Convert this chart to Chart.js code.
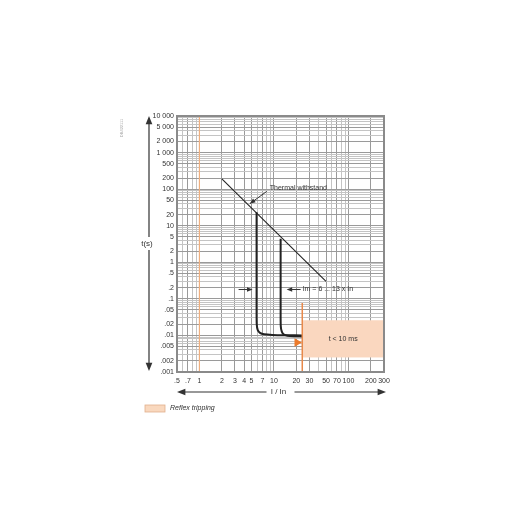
<!DOCTYPE html>
<html>
<head>
<meta charset="utf-8">
<script src="https://cdn.jsdelivr.net/npm/chart.js@4"></script>
<style>
  html, body { margin: 0; padding: 0; background: #fff; }
  #wrap { width: 524px; height: 524px; }
</style>
</head>
<body>
<div id="wrap"><canvas id="c" width="524" height="524"></canvas></div>
<script>
// tick labels
const xTickValues = [0.5, 0.7, 1, 2, 3, 4, 5, 7, 10, 20, 30, 50, 70, 100, 200, 300];
const xTickLabels = ['.5', '.7', '1', '2', '3', '4', '5', '7', '10', '20', '30', '50', '70', '100', '200', '300'];
const yTickValues = [10000, 5000, 2000, 1000, 500, 200, 100, 50, 20, 10, 5, 2, 1, 0.5, 0.2, 0.1, 0.05, 0.02, 0.01, 0.005, 0.002, 0.001];
const yTickLabels = ['10 000', '5 000', '2 000', '1 000', '500', '200', '100', '50', '20', '10', '5', '2', '1', '.5', '.2', '.1', '.05', '.02', '.01', '.005', '.002', '.001'];

// thermal withstand line (I/In, t in s)
const thermalX = [2, 50];
const thermalT = [190, 0.3];

// tripping curve, Im = 6 x In
const curve6X = [5.85, 5.85, 5.88, 6.05, 6.5, 7.4, 9.5, 15, 24];
const curve6T = [23.5, 0.05, 0.02, 0.0142, 0.0117, 0.0107, 0.0103, 0.0101, 0.0100];

// tripping curve, Im = 13 x In
const curve13X = [12.3, 12.3, 12.35, 12.75, 13.6, 15.2, 18.5, 24];
const curve13T = [4.4, 0.05, 0.018, 0.0127, 0.0106, 0.0098, 0.0095, 0.0094];

// reflex tripping zone and its limit line
const reflexX = [24, 300];
const reflexT = [0.0025, 0.026];
const limitX = [24, 24];
const limitT = [0.077, 0.001];
const markerX = [20.4];
const markerT = [0.0064];

// all grid lines: 1..9 in each decade
function decadeLines(min, max) {
  const out = [];
  for (let e = -4; e <= 5; e++) {
    for (let m = 1; m <= 9; m++) {
      const v = +(m * Math.pow(10, e)).toPrecision(3);
      if (v >= min * 0.999 && v <= max * 1.001) out.push(v);
    }
  }
  return out;
}

const toPts = (xs, ys) => xs.map((x, i) => ({ x: x, y: ys[i] }));
const FONT = "'Liberation Sans', Arial, sans-serif";

function labelFor(values, labels, v) {
  const i = values.findIndex(t => Math.abs(t - v) / t < 1e-6);
  return i >= 0 ? labels[i] : '';
}

function gridColor(values, v, special) {
  if (special && Math.abs(v - 1) < 1e-6) return '#eeae7e';
  return values.some(t => Math.abs(t - v) / t < 1e-6) ? '#9a9a9a' : '#c4c4c4';
}

function arrowHead(ctx, x, y, ang, size) {
  ctx.beginPath();
  ctx.moveTo(x, y);
  ctx.lineTo(x - size * Math.cos(ang - 0.38), y - size * Math.sin(ang - 0.38));
  ctx.lineTo(x - size * Math.cos(ang + 0.38), y - size * Math.sin(ang + 0.38));
  ctx.closePath();
  ctx.fill();
}

// background zone, frame, axis arrows, notes and legend
const decorations = {
  id: 'decorations',
  beforeDatasetsDraw(chart) {
    const { ctx, scales: { x, y } } = chart;
    const x0 = x.getPixelForValue(reflexX[0]), x1 = x.getPixelForValue(reflexX[1]);
    const y0 = y.getPixelForValue(reflexT[1]), y1 = y.getPixelForValue(reflexT[0]);
    ctx.save();
    // x = 1 line in orange
    const one = x.getPixelForValue(1);
    ctx.strokeStyle = '#eeae7e';
    ctx.lineWidth = 1.2;
    ctx.beginPath();
    ctx.moveTo(one, chart.chartArea.top);
    ctx.lineTo(one, chart.chartArea.bottom);
    ctx.stroke();

    ctx.fillStyle = '#fad7bf';
    ctx.fillRect(x0, y0, x1 - x0, y1 - y0);
    ctx.fillStyle = '#333';
    ctx.font = '7px ' + FONT;
    ctx.textAlign = 'center';
    ctx.textBaseline = 'middle';
    ctx.fillText('t < 10 ms', (x0 + x1) / 2, (y0 + y1) / 2);
    ctx.restore();
  },
  afterDatasetsDraw(chart) {
    const { ctx, chartArea: a, scales: { x, y } } = chart;
    ctx.save();
    // frame
    ctx.strokeStyle = '#8a8a8a';
    ctx.lineWidth = 2;
    ctx.strokeRect(a.left, a.top, a.right - a.left, a.bottom - a.top);

    ctx.fillStyle = '#333';
    ctx.strokeStyle = '#333';
    ctx.font = '7px ' + FONT;
    ctx.textBaseline = 'middle';

    // thermal withstand note
    ctx.textAlign = 'left';
    const tx = x.getPixelForValue(8.8), ty = y.getPixelForValue(105);
    ctx.fillText('Thermal withstand', tx, ty);
    const ax = x.getPixelForValue(4.75), ay = y.getPixelForValue(40);
    ctx.lineWidth = 1;
    ctx.beginPath();
    ctx.moveTo(tx - 3, ty + 3);
    ctx.lineTo(ax, ay);
    ctx.stroke();
    arrowHead(ctx, ax, ay, Math.atan2(ay - ty - 3, ax - tx + 3), 6);

    // Im range note
    const ny = y.getPixelForValue(0.18);
    const c6 = x.getPixelForValue(curve6X[0]), c13 = x.getPixelForValue(curve13X[0]);
    ctx.beginPath();
    ctx.moveTo(c6 - 18, ny); ctx.lineTo(c6 - 6, ny);
    ctx.moveTo(c13 + 20, ny); ctx.lineTo(c13 + 8, ny);
    ctx.stroke();
    arrowHead(ctx, c6 - 4, ny, 0, 6);
    arrowHead(ctx, c13 + 6, ny, Math.PI, 6);
    ctx.fillText('Im = 6 ... 13 x In', c13 + 22, ny);

    // t(s) axis arrow
    const vx = a.left - 28;
    ctx.lineWidth = 1.2;
    ctx.beginPath();
    ctx.moveTo(vx, a.top + 4); ctx.lineTo(vx, 237);
    ctx.moveTo(vx, 250); ctx.lineTo(vx, a.bottom - 4);
    ctx.stroke();
    arrowHead(ctx, vx, a.top, -Math.PI / 2, 9);
    arrowHead(ctx, vx, a.bottom - 1, Math.PI / 2, 9);
    ctx.textAlign = 'center';
    ctx.font = '8px ' + FONT;
    ctx.fillText('t(s)', vx - 2, 243.5);

    // I / In axis arrow
    const hy = a.bottom + 20;
    const mid = (a.left + a.right) / 2;
    ctx.beginPath();
    ctx.moveTo(a.left + 4, hy); ctx.lineTo(mid - 14, hy);
    ctx.moveTo(mid + 14, hy); ctx.lineTo(a.right - 2, hy);
    ctx.stroke();
    arrowHead(ctx, a.left, hy, Math.PI, 9);
    arrowHead(ctx, a.right + 2, hy, 0, 9);
    ctx.fillText('I / In', mid - 2, hy);

    // small document reference
    ctx.save();
    ctx.translate(a.left - 55, a.top + 12);
    ctx.rotate(-Math.PI / 2);
    ctx.fillStyle = '#aaa';
    ctx.font = '4px ' + FONT;
    ctx.fillText('DB422111', 0, 0);
    ctx.restore();

    // legend
    ctx.fillStyle = '#f9d8be';
    ctx.fillRect(145, 405, 20, 7);
    ctx.strokeStyle = '#e0b08c';
    ctx.lineWidth = 0.8;
    ctx.strokeRect(145, 405, 20, 7);
    ctx.fillStyle = '#333';
    ctx.textAlign = 'left';
    ctx.font = 'italic 7px ' + FONT;
    ctx.fillText('Reflex tripping', 170, 408.5);
    ctx.restore();
  }
};

const line = (data, color, width, extra) => Object.assign({
  data: data,
  showLine: true,
  borderColor: color,
  borderWidth: width,
  pointRadius: 0,
  tension: 0,
  fill: false
}, extra || {});

new Chart(document.getElementById('c'), {
  type: 'scatter',
  data: {
    datasets: [
      line(toPts(limitX, limitT), '#e8894a', 1.5),
      line(toPts(thermalX, thermalT), '#222', 1.1),
      line(toPts(curve6X, curve6T), '#222', 2, { tension: 0.25 }),
      line(toPts(curve13X, curve13T), '#222', 2, { tension: 0.25 }),
      {
        data: toPts(markerX, markerT),
        showLine: false,
        pointStyle: 'triangle',
        rotation: 90,
        pointRadius: 5,
        backgroundColor: '#ec7a2a',
        borderColor: '#ec7a2a',
        borderWidth: 0
      }
    ]
  },
  options: {
    responsive: false,
    animation: false,
    layout: { padding: { left: 100, right: 140, top: 116, bottom: 136 } },
    plugins: { legend: { display: false }, tooltip: { enabled: false } },
    scales: {
      x: {
        type: 'logarithmic',
        min: 0.5,
        max: 300,
        afterBuildTicks: s => { s.ticks = decadeLines(0.5, 300).map(v => ({ value: v })); },
        afterFit: s => { s.height = 16; },
        grid: {
          color: c => gridColor(xTickValues, c.tick.value, true),
          lineWidth: 1,
          drawTicks: false
        },
        border: { display: false },
        ticks: {
          autoSkip: false,
          maxRotation: 0,
          padding: 5,
          color: '#333',
          font: { family: FONT, size: 7 },
          callback: v => labelFor(xTickValues, xTickLabels, v)
        }
      },
      y: {
        type: 'logarithmic',
        min: 0.001,
        max: 10000,
        afterBuildTicks: s => { s.ticks = decadeLines(0.001, 10000).map(v => ({ value: v })); },
        afterFit: s => { s.width = 77; },
        grid: {
          color: c => gridColor(yTickValues, c.tick.value, false),
          lineWidth: 1,
          drawTicks: false
        },
        border: { display: false },
        ticks: {
          autoSkip: false,
          padding: 3,
          color: '#333',
          font: { family: FONT, size: 7 },
          callback: v => labelFor(yTickValues, yTickLabels, v)
        }
      }
    }
  },
  plugins: [decorations]
});
</script>
</body>
</html>
